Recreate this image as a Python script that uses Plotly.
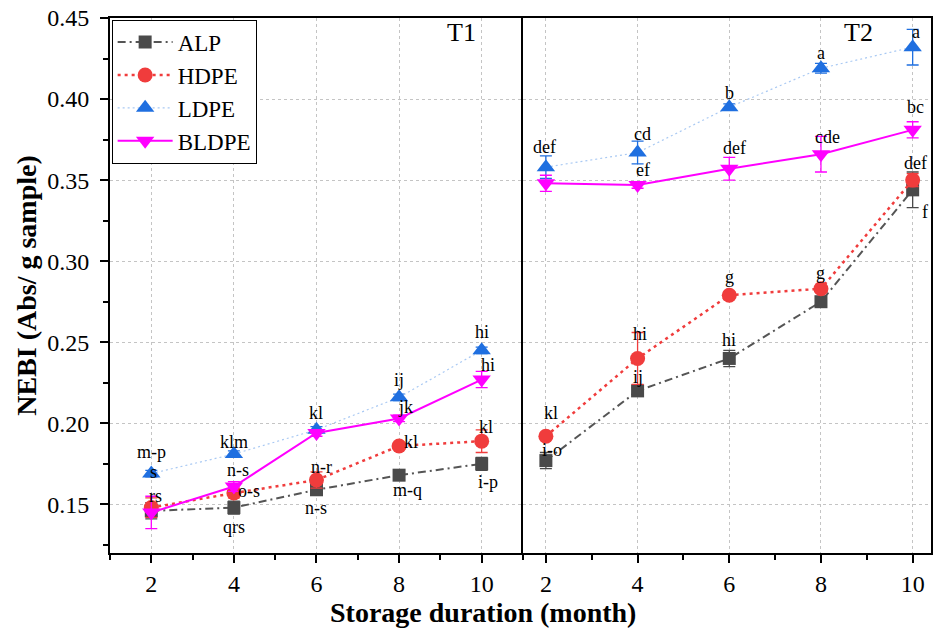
import plotly.graph_objects as go

months = [2, 4, 6, 8, 10]
series_names = ["ALP", "HDPE", "LDPE", "BLDPE"]

# T1 panel values
alp_t1 = [0.146, 0.148, 0.159, 0.168, 0.175]
hdpe_t1 = [0.148, 0.157, 0.165, 0.186, 0.189]
ldpe_t1 = [0.169, 0.181, 0.196, 0.216, 0.245]
bldpe_t1 = [0.145, 0.161, 0.194, 0.203, 0.227]
# T2 panel values
alp_t2 = [0.177, 0.220, 0.240, 0.275, 0.344]
hdpe_t2 = [0.192, 0.240, 0.279, 0.283, 0.350]
ldpe_t2 = [0.358, 0.367, 0.395, 0.419, 0.432]
bldpe_t2 = [0.348, 0.347, 0.357, 0.366, 0.381]

# error bars
alp_t1_err = [0.005, 0.004, 0.003, 0.003, 0.004]
hdpe_t1_err = [0.006, 0.003, 0.005, 0.002, 0.007]
ldpe_t1_err = [0.002, 0.002, 0.002, 0.002, 0.002]
bldpe_t1_err = [0.010, 0.003, 0.002, 0.002, 0.005]
alp_t2_err = [0.005, 0.002, 0.005, 0.002, 0.011]
hdpe_t2_err = [0.002, 0.016, 0.002, 0.002, 0.004]
ldpe_t2_err = [0.007, 0.007, 0.002, 0.003, 0.011]
bldpe_t2_err = [0.005, 0.002, 0.007, 0.011, 0.005]

# significance letters
alp_t1_lbl = ["s", "qrs", "n-s", "m-q", "i-p"]
hdpe_t1_lbl = ["rs", "o-s", "n-r", "kl", "kl"]
ldpe_t1_lbl = ["m-p", "klm", "kl", "ij", "hi"]
bldpe_t1_lbl = ["", "n-s", "", "jk", "hi"]
alp_t2_lbl = ["i-o", "ij", "hi", "", "f"]
hdpe_t2_lbl = ["kl", "hi", "g", "g", "def"]
ldpe_t2_lbl = ["def", "cd", "b", "a", "a"]
bldpe_t2_lbl = ["", "ef", "def", "cde", "bc"]

# label offsets in pixels (dx right, dy down) -- style only
alp_t1_off = [(2, -39), (0, 19), (0, 18), (8, 15), (6, 18)]
hdpe_t1_off = [(4, -12), (15, -2), (5, -13), (12, -4), (4, -14)]
ldpe_t1_off = [(0, -22), (0, -12), (0, -17), (0, -17), (0, -18)]
bldpe_t1_off = [(0, 0), (4, -17), (0, 0), (6, -11), (6, -15)]
alp_t2_off = [(6, -11), (0, -14), (0, -18), (0, 0), (12, 22)]
hdpe_t2_off = [(5, -23), (2, -24), (0, -18), (0, -16), (3, -17)]
ldpe_t2_off = [(-1, -20), (5, -19), (0, -14), (0, -15), (3, -15)]
bldpe_t2_off = [(0, 0), (5, -15), (5, -21), (7, -17), (3, -23)]

FONT = "Times New Roman, Liberation Serif, serif"
styles = {
    "ALP": dict(color="#4a4a4a", line=dict(color="#555555", width=2, dash="8px,4px,2px,4px"),
                symbol="square", size=13),
    "HDPE": dict(color="#f03c3c", line=dict(color="#f03c3c", width=2.5, dash="3px,4px"),
                 symbol="circle", size=15),
    "LDPE": dict(color="#1f6fe0", line=dict(color="#a9c9f3", width=1.2, dash="2px,3px"),
                 symbol="triangle-up", size=16),
    "BLDPE": dict(color="#ff00ff", line=dict(color="#ff00ff", width=2, dash="solid"),
                  symbol="triangle-down", size=16),
}

panels = [
    ("x", "y", [alp_t1, hdpe_t1, ldpe_t1, bldpe_t1],
     [alp_t1_err, hdpe_t1_err, ldpe_t1_err, bldpe_t1_err],
     [alp_t1_lbl, hdpe_t1_lbl, ldpe_t1_lbl, bldpe_t1_lbl],
     [alp_t1_off, hdpe_t1_off, ldpe_t1_off, bldpe_t1_off], True),
    ("x2", "y2", [alp_t2, hdpe_t2, ldpe_t2, bldpe_t2],
     [alp_t2_err, hdpe_t2_err, ldpe_t2_err, bldpe_t2_err],
     [alp_t2_lbl, hdpe_t2_lbl, ldpe_t2_lbl, bldpe_t2_lbl],
     [alp_t2_off, hdpe_t2_off, ldpe_t2_off, bldpe_t2_off], False),
]

fig = go.Figure()
annotations = []
for xa, ya, vals, errs, lbls, offs, show in panels:
    for name, v, e, lb, of in zip(series_names, vals, errs, lbls, offs):
        st = styles[name]
        fig.add_trace(go.Scatter(
            x=months, y=v, name=name, mode="lines+markers",
            xaxis=xa, yaxis=ya, showlegend=show,
            line=st["line"],
            marker=dict(symbol=st["symbol"], size=st["size"], color=st["color"]),
            error_y=dict(type="data", array=e, visible=True, color=st["color"],
                         thickness=1.3, width=6),
        ))
        for m, val, t, (dx, dy) in zip(months, v, lb, of):
            if t:
                annotations.append(dict(
                    x=m, y=val, xref=xa, yref=ya, text=t, showarrow=False,
                    xshift=dx, yshift=-dy, borderpad=0,
                    font=dict(family=FONT, size=18, color="black")))

annotations.append(dict(text="T1", x=0.4277, y=0.972, xref="paper", yref="paper",
                        yanchor="middle", showarrow=False,
                        font=dict(family=FONT, size=26, color="black")))
annotations.append(dict(text="T2", x=0.932, y=0.972, xref="paper", yref="paper",
                        yanchor="middle", showarrow=False,
                        font=dict(family=FONT, size=26, color="black")))
annotations.append(dict(text="<b>Storage duration (month)</b>", x=0.454, y=-0.112,
                        xref="paper", yref="paper", yanchor="middle", showarrow=False,
                        font=dict(family=FONT, size=28, color="black")))

split = 0.503
GRID = "#c4c4c4"
xcommon = dict(showline=True, linecolor="black", linewidth=2, mirror=True,
               ticks="outside", ticklen=8, tickwidth=2, tickcolor="black",
               tickvals=months, ticktext=[str(m) for m in months],
               minor=dict(dtick=1, ticks="outside", ticklen=5, tickwidth=2, tickcolor="black",
                          showgrid=False),
               showgrid=True, gridcolor=GRID, griddash="dot", gridwidth=1,
               zeroline=False, tickfont=dict(family=FONT, size=24, color="black"))

fig.update_layout(
    width=933, height=635,
    margin=dict(l=110, r=0, t=18, b=82),
    paper_bgcolor="white", plot_bgcolor="white",
    font=dict(family=FONT, color="black"),
    xaxis=dict(domain=[0, split], range=[1, 11], **xcommon),
    xaxis2=dict(domain=[split, 1], range=[1.5, 10.4], anchor="y2", **xcommon),
    yaxis=dict(range=[0.12, 0.45], dtick=0.05, tick0=0.15, tickformat=".2f",
               showline=True, linecolor="black", linewidth=2, mirror=False,
               ticks="outside", ticklen=8, tickwidth=2, tickcolor="black",
               ticklabelstandoff=6,
               minor=dict(dtick=0.025, ticks="outside", ticklen=5, tickwidth=2,
                          tickcolor="black", showgrid=False),
               showgrid=True, gridcolor=GRID, griddash="dot", gridwidth=1,
               zeroline=False, tickfont=dict(family=FONT, size=24, color="black"),
               title=dict(text="<b>NEBI (Abs/ g sample)</b>", standoff=2,
                          font=dict(family=FONT, size=28, color="black"))),
    yaxis2=dict(range=[0.12, 0.45], dtick=0.05, tick0=0.15, anchor="x2", matches="y",
                showticklabels=False, ticks="",
                showline=True, linecolor="black", linewidth=2, mirror=True,
                showgrid=True, gridcolor=GRID, griddash="dot", gridwidth=1,
                zeroline=False),
    legend=dict(x=0.002, y=0.997, xanchor="left", yanchor="top",
                bordercolor="black", borderwidth=1, bgcolor="white",
                font=dict(family=FONT, size=23, color="black"),
                itemwidth=55, tracegroupgap=0),
    annotations=annotations,
)

fig.write_html("out.html")
